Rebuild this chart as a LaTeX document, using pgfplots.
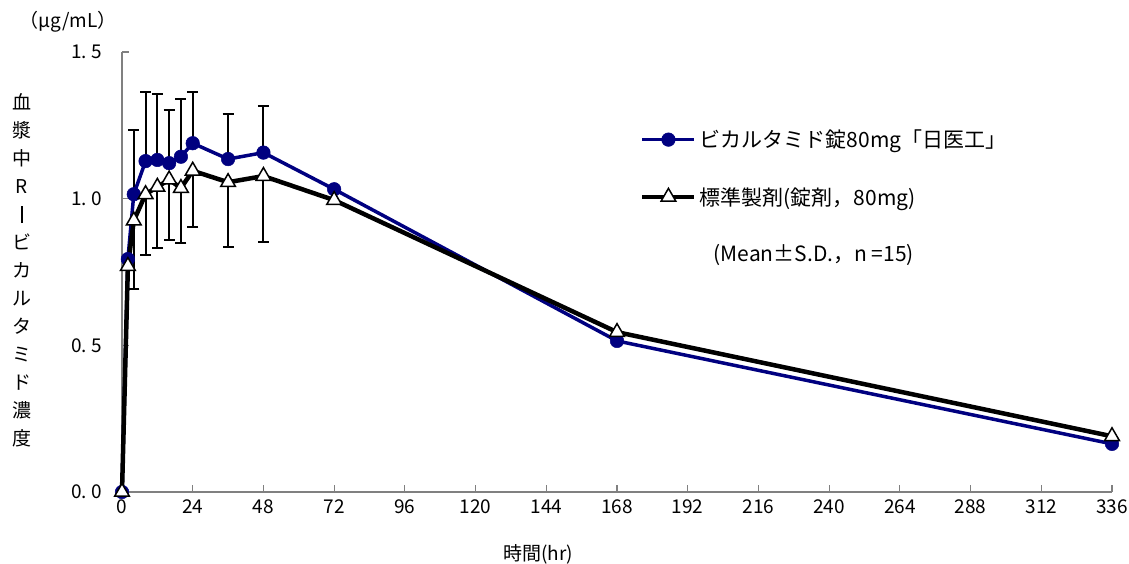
\documentclass[border=0pt]{standalone}
\usepackage{fontspec}
\setmainfont{Noto Sans CJK JP}
\usepackage{pgfplots}
\usepackage{pgfplotstable}
\pgfplotsset{compat=1.18}
\definecolor{navyb}{RGB}{0,0,128}
\definecolor{axgray}{RGB}{128,128,128}

\pgfplotstableread{
t v
0 0
2 0.794
4 1.015
8 1.128
12 1.132
16 1.121
20 1.143
24 1.189
36 1.135
48 1.157
72 1.032
168 0.515
336 0.164
}\testdata

\pgfplotstableread{
t v
0 0
2 0.770
4 0.925
8 1.015
12 1.040
16 1.065
20 1.036
24 1.095
36 1.056
48 1.077
72 0.995
168 0.545
336 0.190
}\refdata

\pgfplotstableread{
t v e
4 1.015 0.219
8 1.128 0.237
12 1.132 0.224
16 1.121 0.182
20 1.143 0.198
24 1.189 0.176
36 1.135 0.153
48 1.157 0.158
}\testerr

\pgfplotstableread{
t v e
4 0.925 0.233
8 1.015 0.207
12 1.040 0.208
16 1.065 0.207
20 1.036 0.186
24 1.095 0.190
36 1.056 0.220
48 1.077 0.226
}\referr

\begin{document}
\begin{tikzpicture}[x=1pt,y=1pt]
\useasboundingbox (0,0) rectangle (1129,564);
\begin{axis}[
  at={(122pt,72pt)}, anchor=south west,
  scale only axis, width=990pt, height=440pt,
  xmin=0, xmax=336, ymin=0, ymax=1.5,
  clip=false,
  axis x line*=bottom, axis y line*=left,
  axis line style={axgray, line width=1.2pt, -},
  tick style={axgray, line width=1.2pt},
  tick align=inside, major tick length=7pt,
  xtick={0,24,...,336},
  ytick={0,0.5,1,1.5},
  yticklabels={0.\hspace{5pt}0,0.\hspace{5pt}5,1.\hspace{5pt}0,1.\hspace{5pt}5},
  /pgf/number format/assume math mode=true,
  tick label style={font=\fontsize{19}{19}\selectfont},
  xticklabel style={yshift=-4pt},
  yticklabel style={xshift=-16pt},
  every error bar/.append style={line width=2pt, draw=black},
  legend cell align=left,
  legend image code/.code={\draw[mark repeat=2,mark phase=2,#1] plot coordinates {(0pt,0pt) (26pt,0pt) (52pt,0pt)};},
  legend style={at={(axis cs:175.8,1.245)}, anchor=north west, draw=none, fill=none,
    font=\fontsize{21}{21}\selectfont, row sep=32pt, inner sep=0pt,
    nodes={inner sep=3pt}},
]
\addplot[draw=none, mark=none, forget plot,
  error bars/.cd, y dir=plus, y explicit,
  error bar style={black, line width=2pt, solid},
  error mark options={black, line width=2pt, mark size=5.5pt, rotate=90}]
  table[x=t, y=v, y error=e]{\testerr};
\addplot[draw=none, mark=none, forget plot,
  error bars/.cd, y dir=minus, y explicit,
  error bar style={black, line width=2pt, solid},
  error mark options={black, line width=2pt, mark size=5.5pt, rotate=90}]
  table[x=t, y=v, y error=e]{\referr};
\addplot[navyb, line width=3.5pt, mark=*, mark size=6.8pt,
  mark options={fill=navyb, draw=navyb, line width=0.5pt, solid}]
  table[x=t, y=v]{\testdata};
\addlegendentry{ビカルタミド錠80mg「日医工」}
\addplot[black, line width=4.5pt, mark=triangle*, mark size=8.5pt,
  mark options={fill=white, draw=black, line width=1.5pt, solid}]
  table[x=t, y=v]{\refdata};
\addlegendentry{標準製剤(錠剤，80mg)}
\addlegendimage{empty legend}
\addlegendentry{\hspace{14pt}(Mean±S.D.，n =15)}
\end{axis}
\node[font=\fontsize{19}{19}\selectfont] at (68,542) {（μg/mL）};
\node[font=\fontsize{19}{28}\selectfont, align=center] at (22,294)
  {血\\漿\\中\\R\\\rule[-2pt]{1.3pt}{17pt}\\ビ\\カ\\ル\\タ\\ミ\\ド\\濃\\度};
\node[font=\fontsize{19}{19}\selectfont] at (538,10) {時間(hr)};
\end{tikzpicture}
\end{document}
